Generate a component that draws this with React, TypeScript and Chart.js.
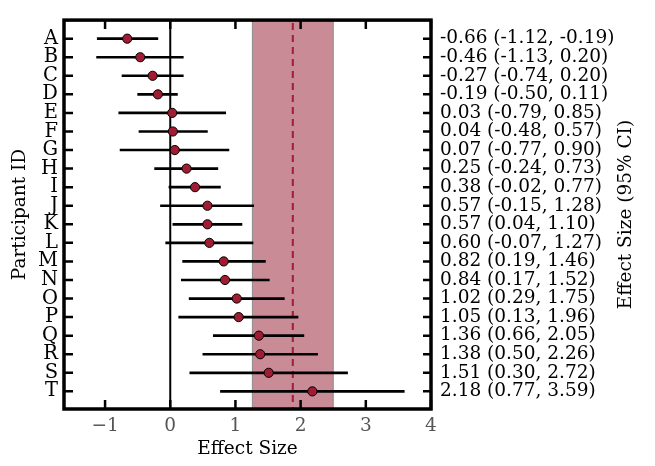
import { useEffect, useRef } from 'react';
import { Chart, registerables } from 'chart.js';

Chart.register(...registerables);

const participants = ['A', 'B', 'C', 'D', 'E', 'F', 'G', 'H', 'I', 'J', 'K', 'L', 'M', 'N', 'O', 'P', 'Q', 'R', 'S', 'T'];
const effects = [-0.66, -0.46, -0.27, -0.19, 0.03, 0.04, 0.07, 0.25, 0.38, 0.57, 0.57, 0.60, 0.82, 0.84, 1.02, 1.05, 1.36, 1.38, 1.51, 2.18];
const ciLower = [-1.12, -1.13, -0.74, -0.50, -0.79, -0.48, -0.77, -0.24, -0.02, -0.15, 0.04, -0.07, 0.19, 0.17, 0.29, 0.13, 0.66, 0.50, 0.30, 0.77];
const ciUpper = [-0.19, 0.20, 0.20, 0.11, 0.85, 0.57, 0.90, 0.73, 0.77, 1.28, 1.10, 1.27, 1.46, 1.52, 1.75, 1.96, 2.05, 2.26, 2.72, 3.59];
const xTicks = [-1, 0, 1, 2, 3, 4];
const referenceLine = 0;
const pooledLine = 1.88;
const bandRange = [1.26, 2.5];

const fmt = (v: number) => v.toFixed(2);
const ciLabels = effects.map((e, i) => `${fmt(e)} (${fmt(ciLower[i])}, ${fmt(ciUpper[i])})`);
const rowIdx = participants.map((_, i) => i);

const FONT = "'DejaVu Serif', serif";

const decor = {
  id: 'decor',
  beforeDatasetsDraw(chart: any) {
    const { ctx, chartArea } = chart;
    const xs = chart.scales.x;
    const { top, bottom } = chartArea;
    ctx.save();
    const b0 = xs.getPixelForValue(bandRange[0]);
    const b1 = xs.getPixelForValue(bandRange[1]);
    ctx.fillStyle = '#c98b96';
    ctx.fillRect(b0, top, b1 - b0, bottom - top);
    ctx.strokeStyle = '#8a8a8a';
    ctx.lineWidth = 1;
    ctx.beginPath();
    ctx.moveTo(b0, top); ctx.lineTo(b0, bottom);
    ctx.moveTo(b1, top); ctx.lineTo(b1, bottom);
    ctx.stroke();
    const z = xs.getPixelForValue(referenceLine);
    ctx.strokeStyle = '#000';
    ctx.lineWidth = 2;
    ctx.beginPath();
    ctx.moveTo(z, top); ctx.lineTo(z, bottom);
    ctx.stroke();
    const p = xs.getPixelForValue(pooledLine);
    ctx.strokeStyle = '#a11d3a';
    ctx.lineWidth = 2;
    ctx.setLineDash([7, 5]);
    ctx.beginPath();
    ctx.moveTo(p, top + 3); ctx.lineTo(p, bottom);
    ctx.stroke();
    ctx.restore();
  },
  afterDraw(chart: any) {
    const { ctx, chartArea } = chart;
    const { left, right, top, bottom } = chartArea;
    const xs = chart.scales.x;
    const ys = chart.scales.y;
    ctx.save();
    ctx.strokeStyle = '#000';
    ctx.lineWidth = 2.5;
    ctx.beginPath();
    rowIdx.forEach((i) => {
      const y = ys.getPixelForValue(i);
      ctx.moveTo(left, y); ctx.lineTo(left + 9, y);
      ctx.moveTo(right - 8, y); ctx.lineTo(right, y);
    });
    xTicks.forEach((v) => {
      const x = xs.getPixelForValue(v);
      ctx.moveTo(x, top); ctx.lineTo(x, top + 9);
      ctx.moveTo(x, bottom - 9); ctx.lineTo(x, bottom);
    });
    ctx.stroke();
    ctx.lineWidth = 3.5;
    ctx.strokeRect(left, top, right - left, bottom - top);
    ctx.translate(626, (top + bottom) / 2);
    ctx.rotate(-Math.PI / 2);
    ctx.fillStyle = '#000';
    ctx.font = `18.5px ${FONT}`;
    ctx.textAlign = 'center';
    ctx.textBaseline = 'middle';
    ctx.fillText('Effect Size (95% CI)', 0, 0);
    ctx.restore();
  },
};

export default function App() {
  const ref = useRef<HTMLCanvasElement>(null);
  useEffect(() => {
    document.body.style.margin = '0';
    const setRowTicks = (scale: any) => {
      scale.ticks = rowIdx.map((v) => ({ value: v }));
    };
    const chart = new Chart(ref.current as HTMLCanvasElement, {
      type: 'scatter',
      data: {
        datasets: [
          {
            type: 'scatter',
            data: effects.map((e, i) => ({ x: e, y: i })),
            pointRadius: 4.6,
            pointBorderWidth: 1,
            pointBorderColor: '#000',
            pointBackgroundColor: '#a01c32',
            xAxisID: 'x',
            yAxisID: 'y',
            order: 0,
          } as any,
          {
            type: 'bar',
            indexAxis: 'y',
            data: rowIdx.map((i) => ({ x: [ciLower[i], ciUpper[i]], y: i })),
            backgroundColor: '#000',
            borderWidth: 0,
            barThickness: 2,
            xAxisID: 'x',
            yAxisID: 'y',
            order: 1,
          } as any,
        ],
      },
      options: {
        responsive: false,
        animation: false,
        events: [],
        layout: { padding: { top: 2, left: 0, right: 0, bottom: 0 }, autoPadding: false },
        plugins: { legend: { display: false }, tooltip: { enabled: false } },
        scales: {
          x: {
            type: 'linear',
            position: 'bottom',
            offset: false,
            min: -1.63,
            max: 4.0,
            afterBuildTicks: (s: any) => { s.ticks = xTicks.map((v) => ({ value: v })); },
            afterFit: (s: any) => { s.height = 57; },
            grid: { display: false, drawTicks: false, offset: false },
            border: { display: false },
            ticks: {
              color: '#555',
              padding: 6,
              font: { family: FONT, size: 18.5 },
              callback: (v: any) => (v < 0 ? '\u2212' + Math.abs(v) : String(v)),
            },
            title: {
              display: true,
              text: 'Effect Size',
              color: '#000',
              font: { family: FONT, size: 18.5 },
              padding: { top: 8, bottom: 6 },
            },
          },
          y: {
            type: 'linear',
            position: 'left',
            offset: false,
            reverse: true,
            min: -1,
            max: 19.95,
            afterBuildTicks: setRowTicks,
            afterFit: (s: any) => { s.width = 64; },
            grid: { display: false, drawTicks: false, offset: false },
            border: { display: false },
            ticks: {
              color: '#000',
              padding: 6,
              autoSkip: false,
              font: { family: FONT, size: 19.5 },
              callback: (v: any) => participants[v] ?? '',
            },
            title: {
              display: true,
              text: 'Participant ID',
              color: '#000',
              font: { family: FONT, size: 18.5 },
              padding: { top: 9, bottom: 0 },
            },
          },
          y2: {
            type: 'linear',
            position: 'right',
            offset: false,
            reverse: true,
            min: -1,
            max: 19.95,
            afterBuildTicks: setRowTicks,
            afterFit: (s: any) => { s.width = 224; },
            grid: { display: false, drawTicks: false, offset: false },
            border: { display: false },
            ticks: {
              color: '#000',
              padding: 9,
              autoSkip: false,
              font: { family: FONT, size: 18.5 },
              callback: (v: any) => ciLabels[v] ?? '',
            },
          },
        },
      } as any,
      plugins: [decor],
    });
    return () => chart.destroy();
  }, []);
  return <canvas ref={ref} width={655} height={466} style={{ display: 'block' }} />;
}
